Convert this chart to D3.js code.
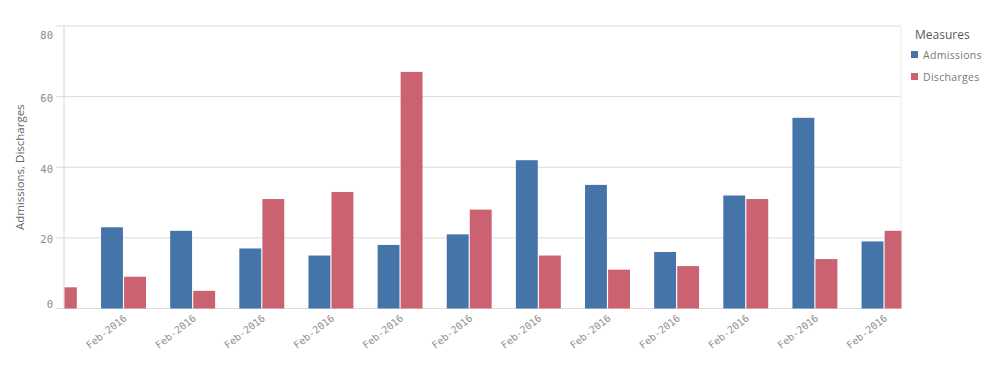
<!DOCTYPE html>
<html>
<head>
<meta charset="utf-8">
<script src="https://cdn.jsdelivr.net/npm/d3@7"></script>
<style>
  body { margin: 0; background: #fff; }
  svg { display: block; }
</style>
</head>
<body>
<svg width="991" height="366"></svg>
<script>
// chart values (first group is scrolled half out of view)
const categories = ["Feb-2016", "Feb-2016", "Feb-2016", "Feb-2016", "Feb-2016", "Feb-2016", "Feb-2016",
                    "Feb-2016", "Feb-2016", "Feb-2016", "Feb-2016", "Feb-2016", "Feb-2016"];
const admissions = [null, 23, 22, 17, 15, 18, 21, 42, 35, 16, 32, 54, 19];
const discharges = [6, 9, 5, 31, 33, 67, 28, 15, 11, 12, 31, 14, 22];
const measures = ["Admissions", "Discharges"];
const yTicks = [0, 20, 40, 60, 80];

const colors = { Admissions: "#4575a8", Discharges: "#cb6272" };

const svg = d3.select("svg");

// plot area
const plotLeft = 64, plotRight = 901, plotTop = 26, plotBottom = 308.5;

// rows of data, one per group
const rows = categories.map((c, i) => ({ i: i, label: c, Admissions: admissions[i], Discharges: discharges[i] }));

// the bar area is scrolled a bit, so the band range starts left of the plot
const step = 69.14;
const x0 = 19.8;
const xScale = d3.scaleBand()
    .domain(rows.map(d => d.i))
    .range([x0, x0 + step * rows.length])
    .paddingInner(0.35)
    .paddingOuter(0.175);

const xSub = d3.scaleBand()
    .domain(measures)
    .range([0, xScale.bandwidth()])
    .paddingInner(0.05);

const yScale = d3.scaleLinear()
    .domain([0, 80])
    .range([plotBottom, plotTop]);

// gridlines (they stick out a little to the left like tick marks)
svg.append("g")
    .selectAll("line")
    .data(yTicks)
    .enter()
    .append("line")
        .attr("x1", plotLeft - 8)
        .attr("x2", plotRight)
        .attr("y1", d => yScale(d))
        .attr("y2", d => yScale(d))
        .style("stroke", "#dcdcdc")
        .style("stroke-width", 1);

// left and right borders of the plot
svg.append("line")
    .attr("x1", plotLeft).attr("x2", plotLeft)
    .attr("y1", plotTop).attr("y2", plotBottom)
    .style("stroke", "#d6d6d6");
svg.append("line")
    .attr("x1", plotRight).attr("x2", plotRight)
    .attr("y1", plotTop).attr("y2", plotBottom)
    .style("stroke", "#ececec");

// clip for the scrolled bars
svg.append("clipPath")
    .attr("id", "plot-clip")
    .append("rect")
        .attr("x", plotLeft + 0.5)
        .attr("y", 0)
        .attr("width", plotRight - plotLeft)
        .attr("height", plotBottom + 1);

const groups = svg.append("g")
    .attr("clip-path", "url(#plot-clip)")
    .selectAll("g")
    .data(rows)
    .enter()
    .append("g")
        .attr("transform", d => "translate(" + xScale(d.i) + ",0)");

groups.selectAll("rect")
    .data(d => measures.filter(m => d[m] != null).map(m => ({ key: m, value: d[m] })))
    .enter()
    .append("rect")
        .attr("x", d => xSub(d.key))
        .attr("width", xSub.bandwidth())
        .attr("y", d => yScale(d.value))
        .attr("height", d => yScale(0) - yScale(d.value))
        .style("fill", d => colors[d.key]);

// y axis labels, end labels are pulled inside the range
const yAxis = d3.axisLeft(yScale)
    .tickValues(yTicks)
    .tickSize(0)
    .tickPadding(0);

const yG = svg.append("g")
    .attr("transform", "translate(" + (plotLeft - 11) + ",0)")
    .call(yAxis);
yG.select(".domain").remove();
yG.selectAll("text")
    .attr("dy", null)
    .attr("dominant-baseline", "central")
    .attr("y", d => d === 80 ? 8 : (d === 0 ? -5 : 1))
    .style("font-family", "'DejaVu Sans Mono', monospace")
    .style("font-size", "10.5px")
    .style("fill", "#8a8a8a");

// x axis labels, only for the groups inside the plot
const xAxis = d3.axisBottom(xScale)
    .tickValues(rows.filter(d => xScale(d.i) + xScale.bandwidth() / 2 > plotLeft).map(d => d.i))
    .tickFormat(i => categories[i])
    .tickSize(0)
    .tickPadding(0);

const xG = svg.append("g")
    .attr("transform", "translate(0," + plotBottom + ")")
    .call(xAxis);
xG.select(".domain").remove();
xG.selectAll("text")
    .attr("y", 0)
    .attr("dy", null)
    .attr("text-anchor", "end")
    .attr("transform", "translate(4,11) rotate(-38)")
    .style("font-family", "'DejaVu Sans Mono', monospace")
    .style("font-size", "10px")
    .style("fill", "#8f8f8f");

// y axis title
svg.append("text")
    .attr("text-anchor", "middle")
    .attr("transform", "translate(24," + ((plotTop + plotBottom) / 2) + ") rotate(-90)")
    .style("font-family", "'Open Sans', sans-serif")
    .style("font-size", "11.5px")
    .style("fill", "#666")
    .text("Admissions, Discharges");

// legend
svg.append("text")
    .attr("x", 915)
    .attr("y", 39)
    .style("font-family", "'Open Sans', sans-serif")
    .style("font-size", "12px")
    .style("fill", "#595959")
    .text("Measures");

const legend = svg.append("g")
    .selectAll("g")
    .data(measures)
    .enter()
    .append("g")
        .attr("transform", (d, i) => "translate(911," + (51 + i * 22) + ")");

legend.append("rect")
    .attr("width", 7)
    .attr("height", 7)
    .style("fill", d => colors[d]);

legend.append("text")
    .attr("x", 12)
    .attr("y", 3.5)
    .attr("dominant-baseline", "central")
    .style("font-family", "'Open Sans', sans-serif")
    .style("font-size", "10.5px")
    .style("letter-spacing", "0.3px")
    .style("fill", "#777")
    .text(d => d);
</script>
</body>
</html>
